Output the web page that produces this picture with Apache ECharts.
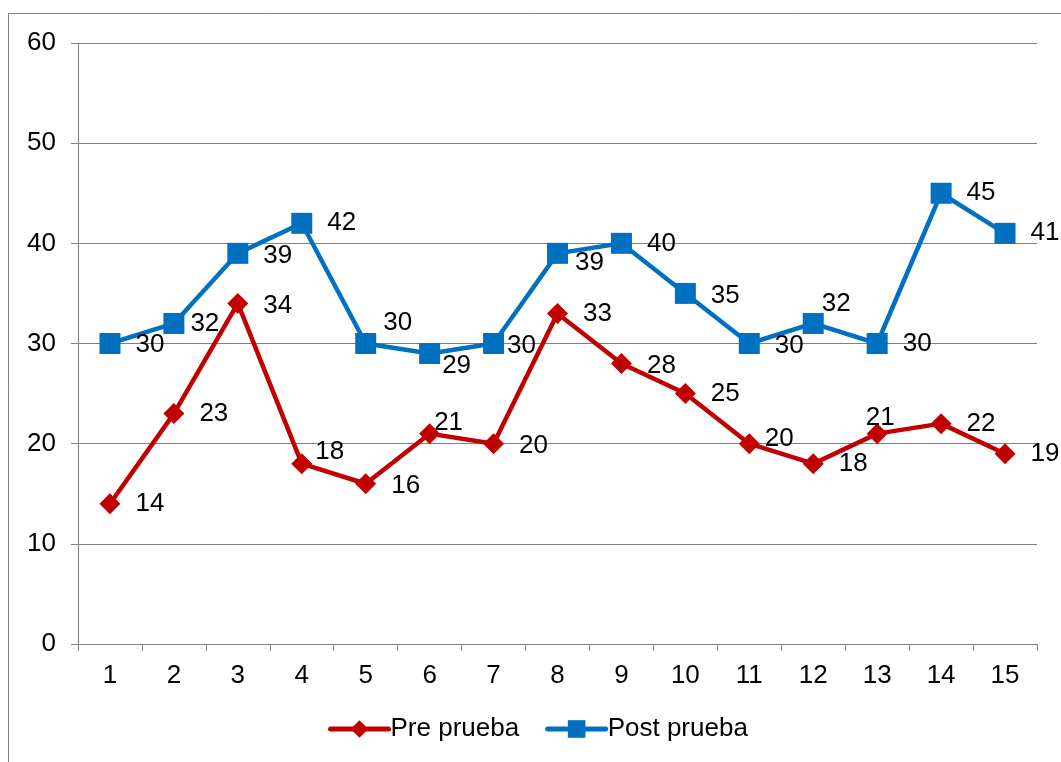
<!DOCTYPE html>
<html>
<head>
<meta charset="utf-8">
<title>Pre prueba / Post prueba</title>
<script src="https://cdn.jsdelivr.net/npm/echarts@6/dist/echarts.min.js"></script>
<style>
  html, body { margin: 0; padding: 0; background: #ffffff; }
  #chart { width: 1061px; height: 762px; }
</style>
</head>
<body>
<div id="chart"></div>
<script>
// Student numbers along the x axis
const categories = ['1','2','3','4','5','6','7','8','9','10','11','12','13','14','15'];

// Scores per student
const prePrueba  = [14, 23, 34, 18, 16, 21, 20, 33, 28, 25, 20, 18, 21, 22, 19];
const postPrueba = [30, 32, 39, 42, 30, 29, 30, 39, 40, 35, 30, 32, 30, 45, 41];

// Value axis ticks
const yTicks = [0, 10, 20, 30, 40, 50, 60];

// Small label nudges [dx, dy] so overlapping value labels stay readable
const preLabelNudge = [
  [0,0],[0,0],[0,2],[-12,-12],[0,2],[-21,-11],[0,2],[0,0],
  [0,2],[0,0],[-10,-5],[0,0],[-37,-16],[0,0],[0,0]
];
const postLabelNudge = [
  [0,1],[-9,0],[0,2],[0,0],[-8,-21],[-13,12],[-12,2],[-8,9],
  [0,0],[0,2],[0,2],[-17,-20],[0,0],[0,0],[0,0]
];

const FONT = '"Liberation Sans", Arial, sans-serif';
const FONT_SIZE = 26;
const AXIS_GRAY = '#808080';

function withNudges(values, nudges) {
  return values.map((v, i) => ({
    value: v,
    label: { offset: nudges[i] }
  }));
}

const chart = echarts.init(document.getElementById('chart'), null, { renderer: 'canvas' });

chart.setOption({
  backgroundColor: '#ffffff',
  animation: false,
  textStyle: { fontFamily: FONT, color: '#000' },
  graphic: [{
    type: 'rect',
    shape: { x: 8.5, y: 13.5, width: 1200, height: 900 },
    style: { fill: 'none', stroke: AXIS_GRAY, lineWidth: 1 },
    silent: true,
    z: -10
  }],
  grid: { left: 78, right: 24, top: 43, bottom: 118, containLabel: false },
  legend: {
    bottom: 15,
    left: 323,
    itemWidth: 58,
    itemHeight: 22,
    itemGap: 26,
    itemStyle: { borderWidth: 0 },
    lineStyle: { width: 5, cap: 'round' },
    textStyle: { fontFamily: FONT, fontSize: FONT_SIZE, color: '#000', padding: [0, 0, 0, -3] },
    data: ['Pre prueba', 'Post prueba']
  },
  xAxis: {
    type: 'category',
    data: categories,
    boundaryGap: true,
    axisLine: { lineStyle: { color: AXIS_GRAY, width: 1 } },
    axisTick: { show: true, length: 7, lineStyle: { color: AXIS_GRAY } },
    axisLabel: { fontFamily: FONT, fontSize: FONT_SIZE, color: '#000', margin: 19 },
    splitLine: { show: false }
  },
  yAxis: {
    type: 'value',
    min: yTicks[0],
    max: yTicks[yTicks.length - 1],
    interval: yTicks[1] - yTicks[0],
    axisLine: { show: true, lineStyle: { color: AXIS_GRAY, width: 1 } },
    axisTick: { show: true, length: 7, lineStyle: { color: AXIS_GRAY } },
    axisLabel: { fontFamily: FONT, fontSize: FONT_SIZE, color: '#000', margin: 22 },
    splitLine: { show: true, lineStyle: { color: AXIS_GRAY, width: 1 } }
  },
  series: [
    {
      name: 'Pre prueba',
      type: 'line',
      data: withNudges(prePrueba, preLabelNudge),
      symbol: 'diamond',
      symbolSize: 21,
      lineStyle: { color: '#C00000', width: 4.5 },
      itemStyle: { color: '#C00000' },
      label: {
        show: true,
        position: 'right',
        distance: 15,
        fontFamily: FONT,
        fontSize: FONT_SIZE,
        color: '#000'
      },
      z: 2
    },
    {
      name: 'Post prueba',
      type: 'line',
      data: withNudges(postPrueba, postLabelNudge),
      symbol: 'rect',
      symbolSize: 21,
      lineStyle: { color: '#0070C0', width: 4.5 },
      itemStyle: { color: '#0070C0' },
      label: {
        show: true,
        position: 'right',
        distance: 15,
        fontFamily: FONT,
        fontSize: FONT_SIZE,
        color: '#000'
      },
      z: 3
    }
  ]
});
</script>
</body>
</html>
